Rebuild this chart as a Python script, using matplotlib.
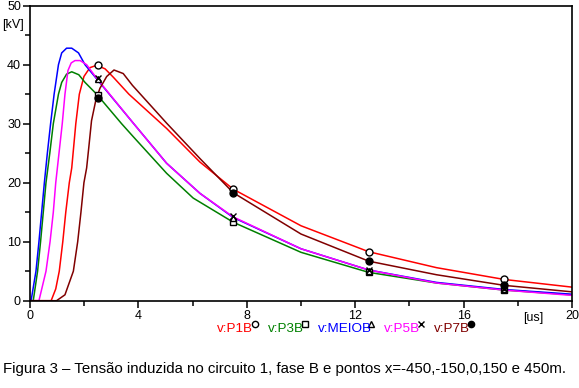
import matplotlib
matplotlib.use("Agg")
import matplotlib.pyplot as plt
from matplotlib.lines import Line2D

plt.rcParams['font.family'] = ['Liberation Sans', 'DejaVu Sans']

# ---- data (time in us, voltage in kV) ----
t_meio = [0, 0.04, 0.22, 0.33, 0.43, 0.53, 0.64, 0.76, 0.89, 1.05, 1.17, 1.35, 1.54, 1.79, 2.03, 2.46,
          3.81, 5.04, 6.27, 7.5, 10, 12.5, 15, 17.5, 20]
v_meio = [0, 0, 5, 10, 15, 20, 25, 30, 35, 40, 42, 42.8, 42.8, 42, 40, 37.6,
          30.1, 23.3, 18.2, 14.1, 8.8, 5.2, 3.1, 1.9, 1.1]

t_p3 = [0, 0.12, 0.28, 0.39, 0.49, 0.59, 0.73, 0.86, 1.05, 1.17, 1.35, 1.54, 1.8, 2.03, 2.46, 3.38, 3.81,
        5.04, 6.02, 7.5, 10, 12.5, 15, 17.5, 20]
v_p3 = [0, 0, 5, 10, 15, 20, 25, 30, 35, 37, 38.4, 38.8, 38.3, 37, 35, 30, 27.8,
        21.6, 17.4, 13.3, 8.2, 4.8, 3.0, 1.8, 1.0]

t_p5 = [0, 0.33, 0.59, 0.74, 0.86, 0.95, 1.07, 1.19, 1.29, 1.40, 1.52, 1.66, 1.85, 2.09, 2.46,
        3.81, 5.04, 6.27, 7.5, 10, 12.5, 15, 17.5, 20]
v_p5 = [0, 0, 5, 10, 15, 20, 25, 30, 35, 39, 40.3, 40.7, 40.7, 40, 37.7,
        30.1, 23.3, 18.2, 14.2, 8.8, 5.2, 3.0, 1.8, 0.9]

t_p1 = [0, 0.78, 0.95, 1.08, 1.21, 1.32, 1.45, 1.54, 1.6, 1.69, 1.82, 1.99, 2.21, 2.46, 2.77, 3.07,
        3.65, 5.04, 6.27, 7.5, 10, 12.5, 15, 17.5, 20]
v_p1 = [0, 0, 2, 5, 10, 15, 20, 22.5, 25.5, 30, 35, 38, 39.5, 39.9, 39.3, 37.9,
        35, 29.2, 23.5, 18.9, 12.7, 8.3, 5.6, 3.6, 2.3]

t_p7 = [0, 0.98, 1.29, 1.6, 1.76, 1.88, 1.99, 2.09, 2.17, 2.27, 2.43, 2.58, 2.83, 3.1, 3.44, 3.78,
        4.43, 5.04, 6.27, 7.5, 10, 12.5, 15, 17.5, 20]
v_p7 = [0, 0, 1, 5, 10, 15, 20, 22.5, 26, 30.5, 34, 36, 38, 39.1, 38.5, 36.5,
        33.2, 30.1, 24.1, 18.3, 11.3, 6.7, 4.4, 2.6, 1.5]

t_mark = [2.5, 7.5, 12.5, 17.5]
m_p1 = [40.0, 19.0, 8.3, 3.6]
m_p3 = [34.9, 13.3, 4.8, 1.8]
m_meio = [37.5, 14.1, 5.1, 1.9]
m_p5 = [37.8, 14.3, 5.2, 2.0]
m_p7 = [34.3, 18.3, 6.7, 2.6]

series_names = ['v:P1B', 'v:P3B', 'v:MEIOB', 'v:P5B', 'v:P7B']
series_colors = ['#ff0000', '#008000', '#0000ff', '#ff00ff', '#800000']

x_ticks = [0, 4, 8, 12, 16, 20]
y_ticks = [0, 10, 20, 30, 40, 50]

caption = "Figura 3 – Tensão induzida no circuito 1, fase B e pontos x=-450,-150,0,150 e 450m."

# ---- figure ----
W, H = 579, 388
fig = plt.figure(figsize=(W / 100, H / 100), dpi=100)
ax = fig.add_axes([30 / W, 1 - 300.7 / H, 542 / W, 295 / H])

curves = [(t_p1, v_p1), (t_p3, v_p3), (t_meio, v_meio), (t_p5, v_p5), (t_p7, v_p7)]
for (t, v), c in zip(curves, series_colors):
    ax.plot(t, v, color=c, lw=1.1, solid_joinstyle='round', zorder=2)

mk_style = [dict(marker='o', mfc='white', mec='black'),
            dict(marker='s', mfc='white', mec='black'),
            dict(marker='^', mfc='white', mec='black'),
            dict(marker='x', mfc='black', mec='black'),
            dict(marker='o', mfc='black', mec='black')]
marks = [m_p1, m_p3, m_meio, m_p5, m_p7]
for m, st in zip(marks, mk_style):
    ax.plot(t_mark, m, ls='none', ms=5, mew=1.0, zorder=3, **st)

ax.set_xlim(0, 20)
ax.set_ylim(0, 50)
ax.set_xticks(x_ticks)
ax.set_yticks(y_ticks)
ax.set_xticks([2, 6, 10, 14, 18], minor=True)
ax.set_yticks([5, 15, 25, 35, 45], minor=True)
ax.tick_params(which='major', direction='out', length=5, width=1.1, labelsize=9, pad=1.5)
ax.tick_params(which='minor', direction='out', length=3.5, width=1.1)
for s in ax.spines.values():
    s.set_linewidth(1.2)

fig.text(13 / W, 1 - 25 / H, '[kV]', ha='center', va='center', fontsize=9)
fig.text(533 / W, 1 - 318 / H, '[us]', ha='center', va='center', fontsize=9)

# legend-like labels below axis
leg_x = [217, 268, 318, 384, 434]
mk_x = [255, 305, 371, 421, 471]
for name, c, lx, mx, st in zip(series_names, series_colors, leg_x, mk_x, mk_style):
    fig.text(lx / W, 1 - 329 / H, name, color=c, fontsize=9.7, ha='left', va='center')
    fig.add_artist(Line2D([mx / W], [1 - 323.5 / H], transform=fig.transFigure, ls='none',
                          ms=4.5, mew=1.0, **st))

fig.text(3 / W, 1 - 369 / H, caption, fontsize=10.8, ha='left', va='center')

fig.savefig('out.png', dpi=100)
